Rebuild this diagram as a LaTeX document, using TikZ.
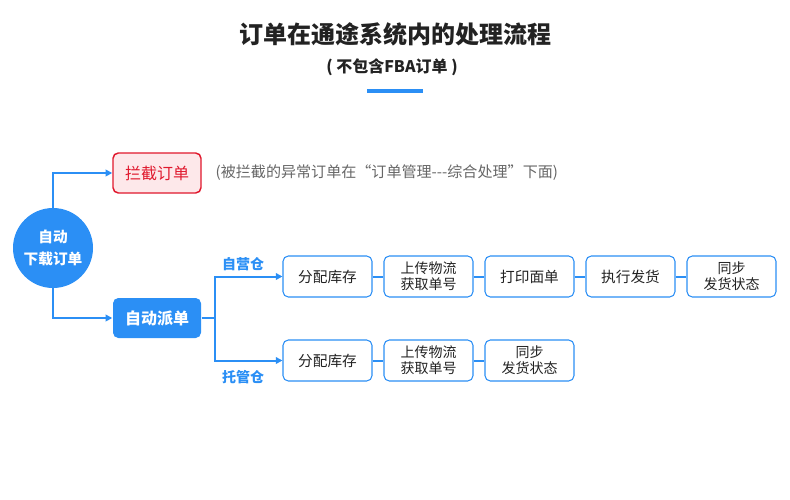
\documentclass[tikz,border=0pt]{standalone}
\usepackage{fontspec}
\setmainfont{Noto Sans CJK SC}
\usepackage{tikz}
\usetikzlibrary{arrows.meta,positioning}
\definecolor{flowblue}{HTML}{2B8FF5}
\definecolor{stopred}{HTML}{E0182D}
\definecolor{stoppink}{HTML}{FDE8EA}
\definecolor{notegray}{HTML}{666666}
\definecolor{titleink}{HTML}{222222}

\begin{document}
\begin{tikzpicture}[x=0.75pt, y=-0.75pt,
  stepbox/.style={draw=flowblue, fill=white, rounded corners=4pt, line width=0.8pt,
    minimum width=66.75pt, minimum height=30.75pt, inner sep=0pt, align=center,
    font=\fontsize{11}{12}\selectfont, text=titleink},
  twoline/.style={stepbox, font=\fontsize{10.5}{12}\selectfont},
  mainbox/.style={rounded corners=4pt, line width=1.1pt, minimum width=66pt,
    minimum height=30pt, inner sep=0pt, font=\fontsize{12}{13}\selectfont},
  link/.style={flowblue, line width=1.5pt},
  arrow/.style={link, -{Triangle[length=5pt,width=5pt]}},
  branch/.style={text=flowblue, font=\fontsize{10.5}{11}\selectfont\bfseries}]
\useasboundingbox (0, 0) rectangle (790, 500);
% title
\node[text=titleink, font=\fontsize{18}{20}\selectfont\bfseries] (title) at (395, 34) {订单在通途系统内的处理流程};
\node[text=titleink, font=\fontsize{12}{13}\selectfont\bfseries] (subtitle) at (392, 67) {( 不包含FBA订单 )};
\draw[flowblue, line width=2.3pt] (367, 91) -- (423, 91);
% start
\node[circle, fill=flowblue, minimum size=60pt, inner sep=0pt, align=center, text=white,
  font=\fontsize{11}{16}\selectfont\bfseries] (start) at (53, 248) {自动\\下载订单};
\node[mainbox, draw=stopred, fill=stoppink, text=stopred] (stop) at (157, 173) {拦截订单};
\node[mainbox, fill=flowblue, text=white, font=\fontsize{12}{13}\selectfont\bfseries] (dispatch) at (157, 318) {自动派单};
\node[anchor=west, text=notegray, font=\fontsize{11.3}{12}\selectfont] (note) at (211, 173) {(被拦截的异常订单在“订单管理-{}-{}-综合处理”下面)};
\draw[arrow] (start.north) |- (stop.west);
\draw[arrow] (start.south) |- (dispatch.west);
% own warehouse
\node[stepbox] (own1) at (327.5, 276.5) {分配库存};
\node[twoline] (own2) at (428.5, 276.5) {上传物流\\获取单号};
\node[stepbox] (own3) at (529.5, 276.5) {打印面单};
\node[stepbox] (own4) at (630.5, 276.5) {执行发货};
\node[twoline] (own5) at (731.5, 276.5) {同步\\发货状态};
% hosted warehouse
\node[stepbox] (host1) at (327.5, 360.5) {分配库存};
\node[twoline] (host2) at (428.5, 360.5) {上传物流\\获取单号};
\node[twoline] (host3) at (529.5, 360.5) {同步\\发货状态};
\coordinate (fork) at (215, 318);
\draw[link] (dispatch.east) -- (fork);
\draw[arrow] (fork) |- (own1.west);
\draw[arrow] (fork) |- (host1.west);
\node[branch] (ownlabel) at (243, 264) {自营仓};
\node[branch] (hostlabel) at (243, 377) {托管仓};
\foreach \a/\b in {own1/own2, own2/own3, own3/own4, own4/own5, host1/host2, host2/host3}
  \draw[link] (\a.east) -- (\b.west);
\end{tikzpicture}
\end{document}
